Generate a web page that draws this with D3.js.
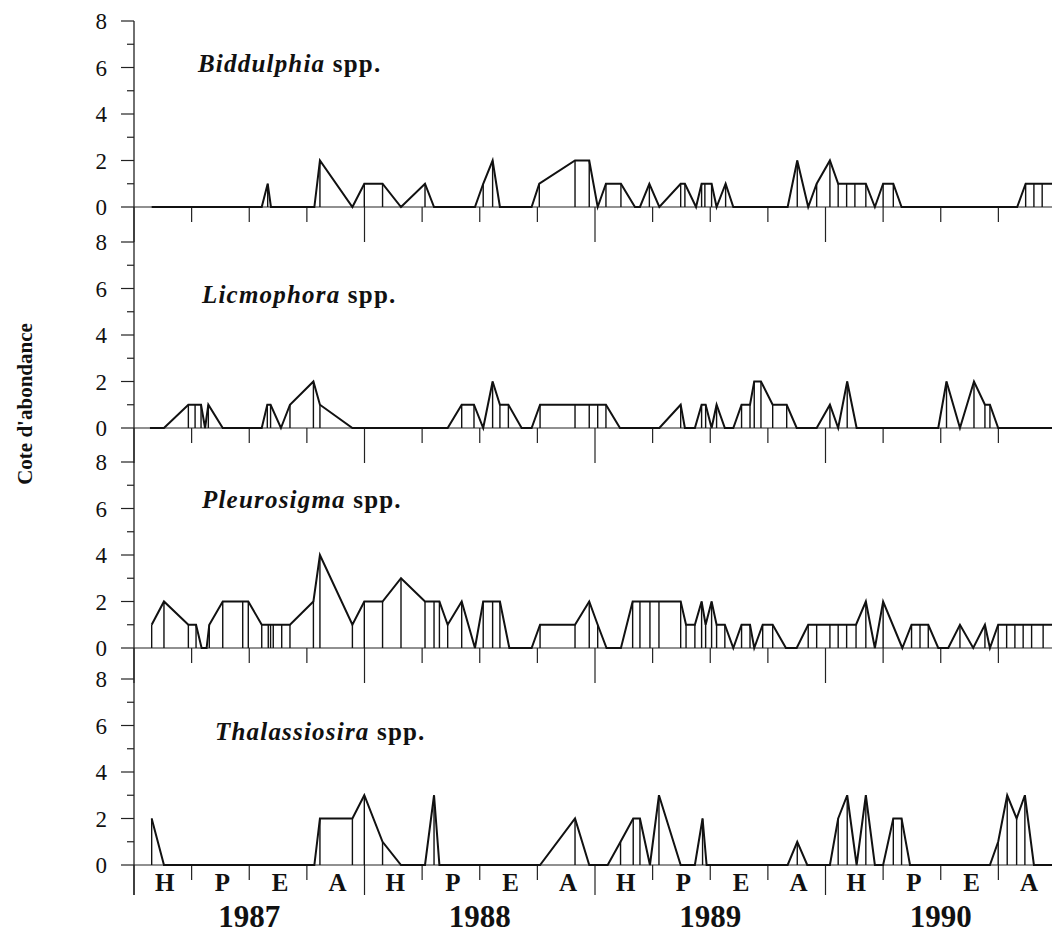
<!DOCTYPE html>
<html>
<head>
<meta charset="utf-8">
<script src="https://cdn.jsdelivr.net/npm/d3@7"></script>
<style>
  html, body { margin: 0; padding: 0; background: #fff; }
  svg { display: block; }
  text { font-family: "Liberation Serif", "Times New Roman", serif; fill: #111; }
</style>
</head>
<body>
<svg id="chart" width="1052" height="936"></svg>
<script>

// Data: [month since Jan 1987, abundance score]
const years = [1987, 1988, 1989, 1990];
const seasons = ["H", "P", "E", "A"];
const yTicks = [0, 2, 4, 6, 8];
const yMinorTicks = [1, 3, 5, 7];
const yLabel = "Cote d'abondance";

const speciesNames = ["Biddulphia", "Licmophora", "Pleurosigma", "Thalassiosira"];

const biddulphia = [
    [0.92, 0], [6.65, 0], [6.96, 1], [7.13, 0], [9.39, 0], [9.68, 2], [11.37, 0],
    [11.99, 1], [12.94, 1], [13.9, 0], [15.15, 1], [15.62, 0], [17.75, 0], [18.18, 1],
    [18.67, 2], [19.05, 0], [20.7, 0], [21.1, 1], [22.96, 2], [23.7, 2], [24.14, 0],
    [24.57, 1], [25.35, 1], [26.08, 0], [26.34, 0], [26.83, 1], [27.35, 0], [28.46, 1],
    [28.68, 1], [29.26, 0], [29.55, 1], [29.72, 1], [30.07, 1], [30.33, 0], [30.8, 1],
    [31.2, 0], [34.03, 0], [34.53, 2], [35.1, 0], [35.54, 1], [36.23, 2], [36.66, 1],
    [37.1, 1], [37.53, 1], [38.1, 1], [38.57, 0], [39.0, 1], [39.53, 1], [39.96, 0],
    [45.98, 0], [46.42, 1], [46.85, 1], [47.28, 1], [48.2, 1]
];

const licmophora = [
    [0.83, 0], [1.56, 0], [2.83, 1], [3.18, 1], [3.49, 1], [3.7, 0], [3.87, 1], [4.62, 0],
    [6.65, 0], [6.94, 1], [7.11, 1], [7.65, 0], [8.12, 1], [9.34, 2], [9.68, 1], [11.37, 0],
    [16.33, 0], [17.06, 1], [17.7, 1], [18.18, 0], [18.67, 2], [19.05, 1], [19.49, 1],
    [20.18, 0], [20.7, 0], [21.14, 1], [22.96, 1], [23.7, 1], [24.14, 1], [24.57, 1],
    [25.3, 0], [27.35, 0], [28.46, 1], [28.68, 0], [29.2, 0], [29.55, 1], [29.76, 1],
    [30.07, 0], [30.33, 1], [30.76, 0], [31.2, 0], [31.63, 1], [32.07, 1], [32.29, 2],
    [32.64, 2], [33.25, 1], [33.98, 1], [34.5, 0], [35.54, 0], [36.23, 1], [36.66, 0],
    [37.13, 2], [37.62, 0], [41.87, 0], [42.3, 2], [43.0, 0], [43.73, 2], [44.3, 1],
    [44.56, 1], [44.99, 0], [48.2, 0]
];

const pleurosigma = [
    [0.92, 1], [1.56, 2], [2.83, 1], [3.23, 1], [3.52, 0], [3.78, 0], [3.92, 1], [4.62, 2],
    [5.66, 2], [5.95, 2], [6.65, 1], [6.99, 1], [7.11, 1], [7.25, 1], [7.69, 1], [8.12, 1],
    [9.34, 2], [9.68, 4], [11.37, 1], [11.99, 2], [12.94, 2], [13.9, 3], [15.15, 2],
    [15.62, 2], [15.9, 2], [16.33, 1], [17.06, 2], [17.75, 0], [18.18, 2], [18.67, 2],
    [19.05, 2], [19.54, 0], [20.7, 0], [21.14, 1], [22.96, 1], [23.7, 2], [24.14, 1],
    [24.6, 0], [25.35, 0], [25.96, 2], [26.34, 2], [26.86, 2], [27.33, 2], [28.46, 2],
    [28.74, 1], [29.2, 1], [29.55, 2], [29.76, 1], [30.07, 2], [30.33, 1], [30.76, 1],
    [31.2, 0], [31.63, 1], [32.07, 1], [32.29, 0], [32.73, 1], [33.25, 1], [33.94, 0],
    [34.5, 0], [35.1, 1], [35.54, 1], [36.23, 1], [36.66, 1], [37.1, 1], [37.59, 1],
    [38.1, 2], [38.57, 0], [39.0, 2], [40.0, 0], [40.48, 1], [40.92, 1], [41.35, 1],
    [41.87, 0], [42.39, 0], [43.0, 1], [43.69, 0], [44.3, 1], [44.56, 0], [44.99, 1],
    [45.43, 1], [45.86, 1], [46.29, 1], [46.73, 1], [47.33, 1], [48.2, 1]
];

const thalassiosira = [
    [0.92, 2], [1.56, 0], [9.39, 0], [9.68, 2], [11.37, 2], [11.99, 3], [12.94, 1],
    [13.9, 0], [15.15, 0], [15.62, 3], [15.9, 0], [21.14, 0], [22.96, 2], [23.7, 0],
    [24.66, 0], [25.33, 1], [25.99, 2], [26.34, 2], [26.86, 0], [27.33, 3], [28.46, 0],
    [29.2, 0], [29.6, 2], [29.81, 0], [34.03, 0], [34.53, 1], [35.05, 0], [36.23, 0],
    [36.66, 2], [37.13, 3], [37.62, 0], [38.1, 3], [38.57, 0], [39.0, 0], [39.53, 2],
    [39.96, 2], [40.4, 0], [44.56, 0], [44.99, 1], [45.46, 3], [45.95, 2], [46.38, 3],
    [46.85, 0], [48.2, 0]
];

const seriesList = [biddulphia, licmophora, pleurosigma, thalassiosira];

// Layout
const svg = d3.select("#chart");
const axisX = 134;
const panelH = 186;
const panelTops = [21, 242, 462, 679];
const titlePos = [[198, 51], [202, 61], [202, 46], [215, 61]];

const x = d3.scaleLinear().domain([0, 48]).range([axisX, 1056]);
const quarterTicks = d3.range(0, 49, 3);

// y axis spine, across all panels
svg.append("line")
    .attr("x1", axisX).attr("x2", axisX)
    .attr("y1", panelTops[0]).attr("y2", panelTops[3] + panelH + 30)
    .attr("stroke", "#222").attr("stroke-width", 1.3);

seriesList.forEach((data, i) => {

    const top = panelTops[i];
    const y = d3.scaleLinear().domain([0, 8]).range([top + panelH, top]);
    const g = svg.append("g");
    const y0 = y(0);

    // Major y ticks + labels
    g.selectAll(".ytick").data(yTicks).join("line")
        .attr("x1", axisX - 13).attr("x2", axisX)
        .attr("y1", d => y(d)).attr("y2", d => y(d))
        .attr("stroke", "#222").attr("stroke-width", 1.2);
    g.selectAll(".ylab").data(yTicks).join("text")
        .attr("x", 107).attr("y", d => y(d) + 8)
        .attr("text-anchor", "end")
        .style("font-size", "23px")
        .text(d => d);

    // Minor y ticks
    g.selectAll(".ymin").data(yMinorTicks).join("line")
        .attr("x1", axisX - 7).attr("x2", axisX)
        .attr("y1", d => y(d)).attr("y2", d => y(d))
        .attr("stroke", "#222").attr("stroke-width", 1.2);

    // Baseline
    g.append("line")
        .attr("x1", axisX).attr("x2", 1052)
        .attr("y1", y0).attr("y2", y0)
        .attr("stroke", "#222").attr("stroke-width", 1.2);

    // Quarter / year ticks below the baseline
    const last = i === seriesList.length - 1;
    g.selectAll(".xtick").data(quarterTicks).join("line")
        .attr("x1", d => x(d)).attr("x2", d => x(d))
        .attr("y1", y0)
        .attr("y2", d => d % 12 === 0 ? y0 + (last ? 30 : 35) : y0 + 15)
        .attr("stroke", "#222").attr("stroke-width", 1.2);

    // Stems
    g.selectAll(".stem").data(data.filter(d => d[1] > 0)).join("line")
        .attr("x1", d => x(d[0])).attr("x2", d => x(d[0]))
        .attr("y1", y0).attr("y2", d => y(d[1]))
        .attr("stroke", "#111").attr("stroke-width", 1.4);

    // Series line
    const line = d3.line().x(d => x(d[0])).y(d => y(d[1]));
    g.append("path")
        .datum(data)
        .attr("d", line)
        .attr("fill", "none")
        .attr("stroke", "#111")
        .attr("stroke-width", 2)
        .attr("stroke-linejoin", "miter");

    // Title
    const t = g.append("text")
        .attr("x", titlePos[i][0]).attr("y", top + titlePos[i][1])
        .style("font-size", "25px")
        .style("font-weight", "bold")
        .style("letter-spacing", "1.2px");
    t.append("tspan").style("font-style", "italic").text(speciesNames[i]);
    t.append("tspan").text(" spp.");
});

// Season and year labels under the last panel
const bottom = panelTops[3] + panelH;
const seasonData = d3.range(16).map(k => ({ k, s: seasons[k % 4] }));
svg.selectAll(".season").data(seasonData).join("text")
    .attr("x", d => x(d.k * 3 + 1.6))
    .attr("y", bottom + 26)
    .attr("text-anchor", "middle")
    .style("font-size", "25px").style("font-weight", "bold")
    .text(d => d.s);

svg.selectAll(".year").data(years).join("text")
    .attr("x", (d, k) => x(k * 12 + 6))
    .attr("y", bottom + 62)
    .attr("text-anchor", "middle")
    .style("font-size", "31px").style("font-weight", "bold")
    .text(d => d);

// Y label
svg.append("text")
    .attr("transform", "translate(32,404) rotate(-90)")
    .attr("text-anchor", "middle")
    .style("font-size", "21px").style("font-weight", "bold")
    .text(yLabel);

</script>
</body>
</html>
